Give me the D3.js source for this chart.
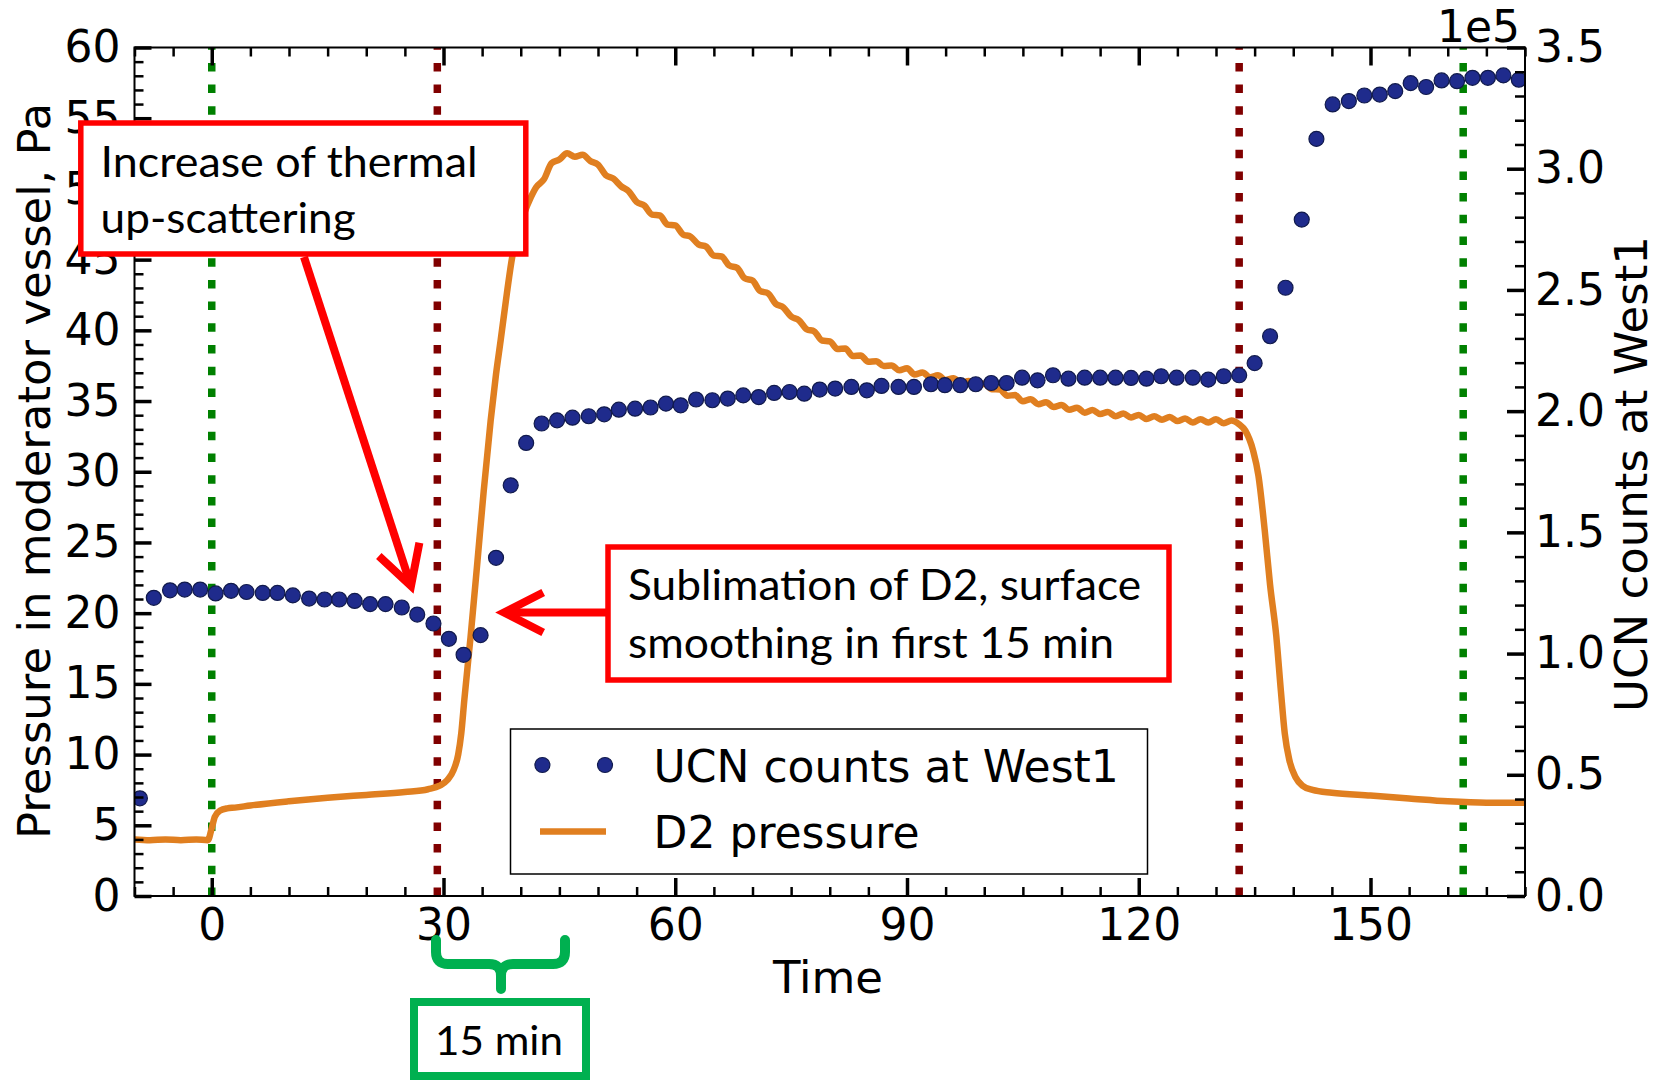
<!DOCTYPE html>
<html><head><meta charset="utf-8">
<script src="https://cdn.jsdelivr.net/npm/d3@7"></script>
<style>
html,body{margin:0;padding:0;background:#fff;}
svg{display:block;}
</style></head>
<body>
<svg id="chart" width="1661" height="1082"></svg>
<script>
// ---------------- DATA ----------------
const ucnTime = [-9.3,-7.5,-5.4,-3.5,-1.5,0.5,2.5,4.5,6.6,8.5,
  10.5,12.6,14.6,16.5,18.5,20.5,22.5,24.6,26.6,28.7,
  30.7,32.6,34.8,36.8,38.7,40.7,42.7,44.7,46.7,48.8,
  50.8,52.7,54.8,56.8,58.8,60.7,62.7,64.8,66.8,68.8,
  70.8,72.8,74.8,76.7,78.7,80.7,82.8,84.8,86.7,88.9,
  90.9,93.1,94.9,96.9,98.9,100.9,102.9,104.9,106.9,108.9,
  110.9,113.0,115.0,117.0,119.0,121.0,122.9,124.9,127.0,129.0,
  131.0,133.0,135.0,137.0,139.0,141.1,143.0,145.1,147.2,149.2,
  151.2,153.2,155.2,157.2,159.2,161.2,163.2,165.2,167.2,169.2];
const ucnCounts = [40300,123000,126100,126400,126400,124800,125900,125400,125000,125000,
  124000,122700,122300,122300,121700,120400,120400,119000,116100,112400,
  106100,99500,107600,139500,169400,186900,194900,196200,197300,197900,
  198700,200600,201000,201500,203100,202400,204800,204500,205200,206500,
  205800,207500,207900,207200,208900,209300,210000,208600,210400,210000,
  210000,211100,210700,210700,211100,211600,211600,213800,212700,214800,
  213400,213800,213800,213800,213700,213400,214400,213800,213800,213000,
  214400,214800,219800,230900,250900,279000,312300,326500,327900,330200,
  330600,332000,335300,333700,336400,336100,337500,337500,338500,336700];

const pressureTime = [-10,-8,-6,-4,-2,-0.5,0,0.4,1.1,2,3,5,10,15,20,25,28,29.5,30.5,31.3,
  31.9,32.3,32.7,33.5,34.4,35.2,36.1,36.8,37.4,38.2,38.9,39.6,40.4,41.3,
  42,43,44,45,46,47,48,49,50,51,52,53,54,55,56,57,58,59,60,61,62,63,64,65,66,67,68,69,
  70,71,72,73,74,75,76,77,78,79,80,81,82,83,84,85,86,87,88,89,90,91,92,93,94,95,96,97,98,99,
  100,101,102,103,104,105,106,107,108,109,110,111,112,113,114,115,116,117,118,119,
  120,121,122,123,124,125,126,127,128,129,130,131,132,133,
  133.8,134.8,135.5,136.3,137.0,137.8,138.4,138.9,139.5,140.3,141.2,142.5,145,150,155,160,165,170];
const pressureValue = [4.0,3.95,4.0,3.95,4.0,3.95,4.8,5.6,6.05,6.2,6.25,6.4,6.7,6.95,7.15,7.35,7.55,7.8,8.2,8.9,
  10.0,11.5,13.9,18.3,23.7,28.6,33.6,36.9,39.3,42.6,45.2,46.8,48.2,49.4,
  50.12,50.68,51.82,52.08,52.52,52.28,52.42,51.98,51.72,50.98,50.72,50.18,49.82,49.08,48.82,48.18,48.12,47.48,47.42,46.78,46.62,46.08,45.92,45.28,45.22,44.58,44.42,43.68,
  43.52,42.78,42.62,41.88,41.62,40.98,40.72,40.08,39.92,39.28,39.22,38.68,38.72,38.18,38.22,37.78,37.82,37.48,37.52,37.18,37.32,36.88,37.02,36.68,36.82,36.48,36.62,36.28,36.42,36.08,
  36.22,35.83,35.82,35.38,35.42,34.98,35.12,34.78,34.92,34.58,34.72,34.38,34.52,34.18,34.37,34.08,34.22,33.93,34.12,33.83,
  34.02,33.73,33.92,33.68,33.87,33.58,33.77,33.48,33.72,33.48,33.72,33.43,33.62,33.35,
  32.9,31.5,29.7,25.9,22.0,18.4,14.5,11.5,9.6,8.4,7.8,7.5,7.3,7.1,6.9,6.7,6.6,6.6];

const xTicks = [0,30,60,90,120,150];
const leftTicks = [0,5,10,15,20,25,30,35,40,45,50,55,60];
const rightTicks = [0,50000,100000,150000,200000,250000,300000,350000];
const rightTickLabels = ["0.0","0.5","1.0","1.5","2.0","2.5","3.0","3.5"];
const greenMarkers = [0,162];
const redMarkers = [29.2,133];
const seriesNames = ["UCN counts at West1","D2 pressure"];

// ---------------- LAYOUT ----------------
const svg = d3.select("#chart");
const m = {left:134.5,right:1525,top:47.5,bottom:896};
const x = d3.scaleLinear().domain([-10,170]).range([m.left,m.right]);
const yL = d3.scaleLinear().domain([0,60]).range([m.bottom,m.top]);
const yR = d3.scaleLinear().domain([0,350000]).range([m.bottom,m.top]);

const FONT = "'DejaVu Sans', sans-serif";
const ANN = "Lato, 'Open Sans', sans-serif";
const ORANGE = "#e07f20", DOT = "#1f2b8c", DOTEDGE = "#111a4c";

svg.append("rect").attr("width",1661).attr("height",1082).attr("fill","#fff");

svg.append("defs").append("clipPath").attr("id","plotclip")
  .append("rect").attr("x",m.left).attr("y",m.top)
  .attr("width",m.right-m.left).attr("height",m.bottom-m.top);

const plot = svg.append("g").attr("clip-path","url(#plotclip)");

// vertical marker lines
function vline(t,color){
  plot.append("line").attr("x1",x(t)).attr("x2",x(t))
    .attr("y1",m.bottom).attr("y2",m.top)
    .attr("stroke",color).attr("stroke-width",7.5)
    .attr("stroke-dasharray","8.5,13.2");
}
greenMarkers.forEach(t=>vline(t,"#008000"));
redMarkers.forEach(t=>vline(t,"#800000"));

// pressure line
const pData = pressureTime.map((t,i)=>({t, v:pressureValue[i]}));
plot.append("path").datum(pData)
  .attr("d", d3.line().x(d=>x(d.t)).y(d=>yL(d.v)).curve(d3.curveMonotoneX))
  .attr("fill","none").attr("stroke",ORANGE).attr("stroke-width",6.5)
  .attr("stroke-linejoin","round");

// UCN dots
const uData = ucnTime.map((t,i)=>({t, v:ucnCounts[i]}));
plot.selectAll("circle.ucn").data(uData).enter().append("circle")
  .attr("class","ucn").attr("cx",d=>x(d.t)).attr("cy",d=>yR(d.v)).attr("r",7.5)
  .attr("fill",DOT).attr("stroke",DOTEDGE).attr("stroke-width",1.2);

// ---------------- AXES ----------------
function styleAxis(g, w){
  g.select(".domain").remove();
  g.selectAll(".tick line").attr("stroke","#000").attr("stroke-width",w);
  g.selectAll(".tick text").attr("font-family",FONT).attr("font-size",44).attr("fill","#000");
}
const xMinor = d3.range(-10,171,5).filter(v=>v%30!==0);
const lMinor = d3.range(0,61,1).filter(v=>v%5!==0);
const rMinor = d3.range(0,350001,10000).filter(v=>v%50000!==0);

// bottom
let g = svg.append("g").attr("transform",`translate(0,${m.bottom})`)
  .call(d3.axisBottom(x).tickValues(xTicks).tickSize(-18).tickSizeOuter(0).tickPadding(13).tickFormat(d3.format("d")));
styleAxis(g,3.5);
g = svg.append("g").attr("transform",`translate(0,${m.bottom})`)
  .call(d3.axisBottom(x).tickValues(xMinor).tickSize(-9).tickSizeOuter(0).tickFormat(""));
styleAxis(g,2.5);
// top
g = svg.append("g").attr("transform",`translate(0,${m.top})`)
  .call(d3.axisTop(x).tickValues(xTicks).tickSize(-18).tickSizeOuter(0).tickFormat(""));
styleAxis(g,3.5);
g = svg.append("g").attr("transform",`translate(0,${m.top})`)
  .call(d3.axisTop(x).tickValues(xMinor).tickSize(-9).tickSizeOuter(0).tickFormat(""));
styleAxis(g,2.5);
// left
g = svg.append("g").attr("transform",`translate(${m.left},0)`)
  .call(d3.axisLeft(yL).tickValues(leftTicks).tickSize(-17).tickSizeOuter(0).tickPadding(14).tickFormat(d3.format("d")));
styleAxis(g,3.5);
g = svg.append("g").attr("transform",`translate(${m.left},0)`)
  .call(d3.axisLeft(yL).tickValues(lMinor).tickSize(-9).tickSizeOuter(0).tickFormat(""));
styleAxis(g,2.5);
// right
g = svg.append("g").attr("transform",`translate(${m.right},0)`)
  .call(d3.axisRight(yR).tickValues(rightTicks).tickSize(-18).tickSizeOuter(0).tickPadding(10)
    .tickFormat((d,i)=>rightTickLabels[i]));
styleAxis(g,3.5);
g = svg.append("g").attr("transform",`translate(${m.right},0)`)
  .call(d3.axisRight(yR).tickValues(rMinor).tickSize(-10).tickSizeOuter(0).tickFormat(""));
styleAxis(g,2.5);

// frame
svg.append("rect").attr("x",m.left).attr("y",m.top)
  .attr("width",m.right-m.left).attr("height",m.bottom-m.top)
  .attr("fill","none").attr("stroke","#000").attr("stroke-width",2);

// offset text
svg.append("text").attr("x",1520).attr("y",42).attr("text-anchor","end")
  .attr("font-family",FONT).attr("font-size",44).text("1e5");

// axis labels
svg.append("text").attr("x",828).attr("y",993).attr("text-anchor","middle")
  .attr("font-family",FONT).attr("font-size",45).text("Time");
svg.append("text").attr("transform","translate(49.5,471) rotate(-90)").attr("text-anchor","middle")
  .attr("font-family",FONT).attr("font-size",45).text("Pressure in moderator vessel, Pa");
svg.append("text").attr("transform","translate(1647,474) rotate(-90)").attr("text-anchor","middle")
  .attr("font-family",FONT).attr("font-size",45).text("UCN counts at West1");

// ---------------- LEGEND ----------------
const lg = svg.append("g");
lg.append("rect").attr("x",510.5).attr("y",729).attr("width",637).attr("height",145)
  .attr("fill","#fff").attr("stroke","#000").attr("stroke-width",1.5);
[542.4,605].forEach(cx=>lg.append("circle").attr("cx",cx).attr("cy",765).attr("r",7.5)
  .attr("fill",DOT).attr("stroke",DOTEDGE).attr("stroke-width",1.2));
lg.append("line").attr("x1",540).attr("x2",606).attr("y1",831.5).attr("y2",831.5)
  .attr("stroke",ORANGE).attr("stroke-width",6.5);
lg.append("text").attr("x",653.6).attr("y",781.5).attr("font-family",FONT).attr("font-size",44).text(seriesNames[0]);
lg.append("text").attr("x",653.6).attr("y",848).attr("font-family",FONT).attr("font-size",44).text(seriesNames[1]);

// ---------------- ANNOTATIONS ----------------
const RED = "#ff0000", GREEN = "#00b050";
function annText(xp,yp,str,len,size){
  svg.append("text").attr("x",xp).attr("y",yp).attr("font-family",ANN).attr("font-size",size||43)
    .attr("textLength",len).attr("lengthAdjust","spacingAndGlyphs").attr("fill","#000").text(str);
}
svg.append("rect").attr("x",80.8).attr("y",123).attr("width",445).attr("height",131)
  .attr("fill","#fff").attr("stroke",RED).attr("stroke-width",5.5);
annText(100.6,177,"Increase of thermal",377);
annText(100.6,233,"up-scattering",255);

svg.append("rect").attr("x",608).attr("y",547).attr("width",561).attr("height",133)
  .attr("fill","#fff").attr("stroke",RED).attr("stroke-width",5.5);
annText(628,599.5,"Sublimation of D2, surface",513);
annText(628,657.5,"smoothing in first 15 min",486);

function arrow(x1,y1,x2,y2,angDeg,len){
  svg.append("line").attr("x1",x1).attr("y1",y1).attr("x2",x2).attr("y2",y2)
    .attr("stroke",RED).attr("stroke-width",8);
  const back = Math.atan2(y1-y2,x1-x2), a = angDeg*Math.PI/180;
  const p1 = [x2+len*Math.cos(back+a), y2+len*Math.sin(back+a)];
  const p2 = [x2+len*Math.cos(back-a), y2+len*Math.sin(back-a)];
  svg.append("path").attr("d",`M${p1[0]},${p1[1]}L${x2},${y2}L${p2[0]},${p2[1]}`)
    .attr("fill","none").attr("stroke",RED).attr("stroke-width",8)
    .attr("stroke-linejoin","miter").attr("stroke-miterlimit",10);
}
arrow(304,257,411,586,29,44);
arrow(607,612.5,504,612.5,27,44);

// 15 min brace
svg.append("path")
  .attr("d","M436,940 L436,952 Q436,964 448,964 L489,964 Q501,964 501,976 L501,989 M501,976 Q501,964 513,964 L553,964 Q565,964 565,952 L565,940")
  .attr("fill","none").attr("stroke",GREEN).attr("stroke-width",10).attr("stroke-linecap","round");
svg.append("rect").attr("x",414).attr("y",1002).attr("width",172).attr("height",74)
  .attr("fill","#fff").attr("stroke",GREEN).attr("stroke-width",8);
annText(435,1055,"15 min",128,40);
</script>
</body></html>
